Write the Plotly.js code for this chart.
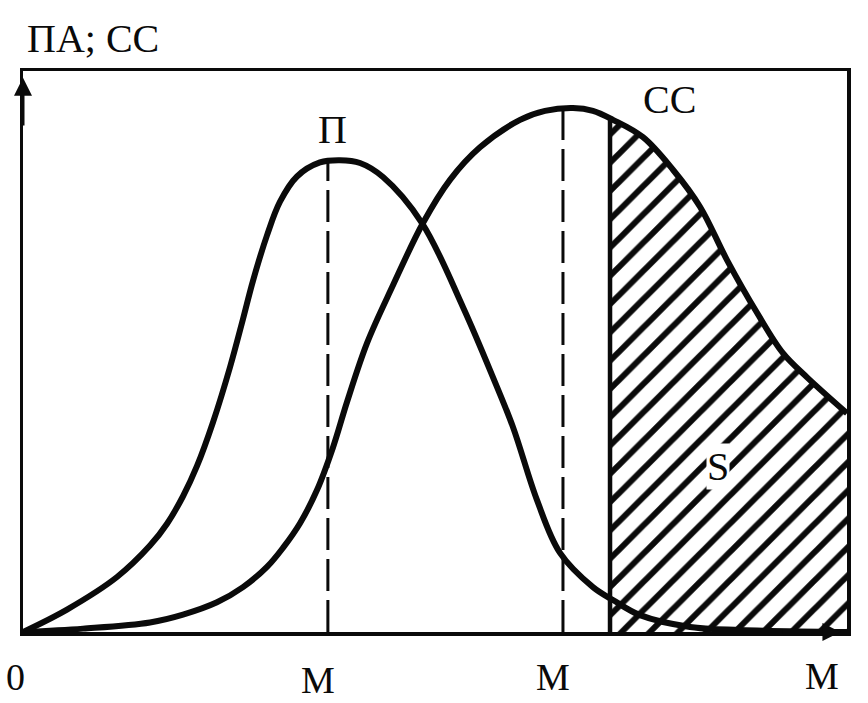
<!DOCTYPE html>
<html>
<head>
<meta charset="utf-8">
<script src="https://cdn.plot.ly/plotly-3.0.1.min.js"></script>
<style>html,body{margin:0;padding:0;background:#fff}#chart{width:868px;height:703px}</style>
</head>
<body>
<div id="chart"></div>
<script>
// Curve П
const pX = [0, 5.34, 11.41, 15.41, 17.48, 19.42, 21.12, 23.06, 25.12, 26.70, 27.91, 29.61, 31.19, 33.25, 36.04, 38.47, 40.90, 43.69, 48.42, 53.40, 57.04, 59.47, 62.38, 65.17, 69.17, 71.60, 74.88, 80.95, 87.01, 100];
const pY = [0, 4.0, 9.8, 15.4, 19.3, 24.2, 29.6, 37.4, 47.2, 55.8, 62.6, 70.7, 76.7, 81.2, 83.7, 84.1, 83.6, 81.1, 72.9, 57.9, 45.4, 36.5, 23.5, 14.1, 8.0, 5.7, 3.0, 0.9, 0.35, 0];
// Curve СС
const cX = [0, 7.28, 15.41, 19.42, 23.54, 26.70, 29.61, 31.55, 33.62, 35.68, 37.62, 39.32, 41.75, 44.90, 48.54, 51.82, 55.46, 60.32, 63.35, 66.75, 69.17, 71.60, 75.24, 78.88, 82.16, 85.44, 89.08, 92.23, 95.15, 100];
const cY = [0, 0.6, 1.7, 3.1, 5.3, 8.0, 11.6, 15.0, 19.4, 25.3, 32.9, 41.0, 51.5, 61.8, 72.9, 80.6, 86.4, 91.3, 92.9, 93.4, 92.9, 91.3, 88.2, 82.4, 75.8, 66.3, 56.9, 49.7, 45.4, 39.0];
// Shaded region S (part of СС beyond the cut-off)
const sX = [71.24, 71.60, 75.24, 78.88, 82.16, 85.44, 89.08, 92.23, 95.15, 100];
const sY = [91.5, 91.3, 88.2, 82.4, 75.8, 66.3, 56.9, 49.7, 45.4, 39.0];
// Reference verticals
const mPeakP = {x: 37.0, top: 84.0};
const mPeakC = {x: 65.53, top: 93.2};
const cutX = {x: 71.24, top: 91.5};
// Labels
const yLabel = 'ПА; СС';
const curveLabels = [{text: 'П', x: 37.6, y: 89.5}, {text: 'СС', x: 78.5, y: 95.0}, {text: 'S', x: 84.4, y: 29.5, halo: true}];
const xTickPos = [-0.0085, 0.358, 0.643, 0.970];
const xTickText = ['0', 'M', 'M', 'M'];
const xTickShift = [-22, -25, -22, -21];

const black = '#0a0a0a';
const font = {family: 'Liberation Serif, Times New Roman, serif', size: 40, color: black};
const tickFont = {family: 'Liberation Serif, Times New Roman, serif', size: 38, color: black};

const traces = [
  {x: sX, y: sY, mode: 'lines', fill: 'tozeroy', line: {width: 0, color: black, shape: 'spline'},
   fillcolor: 'rgba(255,255,255,0)',
   fillpattern: {shape: '/', size: 20, solidity: 0.3, fgcolor: black, bgcolor: 'rgba(255,255,255,0)'}, hoverinfo: 'skip'},
  {x: pX, y: pY, mode: 'lines', line: {shape: 'spline', width: 6, color: black}},
  {x: cX, y: cY, mode: 'lines', line: {shape: 'spline', width: 6, color: black}},
  {x: [mPeakP.x, mPeakP.x], y: [0, mPeakP.top], mode: 'lines', line: {width: 3, color: black, dash: '32px,9px'}},
  {x: [mPeakC.x, mPeakC.x], y: [0, mPeakC.top], mode: 'lines', line: {width: 3, color: black, dash: '32px,9px'}},
  {x: [cutX.x, cutX.x], y: [0, cutX.top], mode: 'lines', line: {width: 4.5, color: black}}
];

const annotations = curveLabels.map(l => Object.assign({text: l.text, x: l.x, y: l.y, xref: 'x', yref: 'y', showarrow: false, font: font},
  l.halo ? {bgcolor: '#ffffff', borderpad: 0} : {}));
annotations.push({text: yLabel, xref: 'paper', yref: 'paper', x: 0.002, y: 1.0, yshift: 8, xanchor: 'left', yanchor: 'bottom', showarrow: false, font: font});
xTickPos.forEach((v, i) => annotations.push({text: xTickText[i], x: v, xref: 'paper', yref: 'paper', y: 0, xanchor: 'center', yanchor: 'top', yshift: xTickShift[i], showarrow: false, font: tickFont}));
// axis arrows
annotations.push({x: 0, y: 98.8, ax: 0, ay: 90, xref: 'x', yref: 'y', axref: 'x', ayref: 'y', text: '', showarrow: true, arrowhead: 2, arrowsize: 1.2, arrowwidth: 3, arrowcolor: black});
annotations.push({x: 99.2, y: 0, ax: 92, ay: 0, xref: 'x', yref: 'y', axref: 'x', ayref: 'y', text: '', showarrow: true, arrowhead: 2, arrowsize: 1.2, arrowwidth: 3, arrowcolor: black});

const layout = {
  width: 868, height: 703,
  margin: {l: 23, r: 21, t: 71, b: 71},
  paper_bgcolor: '#fff', plot_bgcolor: '#fff',
  showlegend: false,
  xaxis: {range: [0, 100], showgrid: false, zeroline: false, showticklabels: false, ticks: '',
          showline: true, mirror: true, linewidth: 3.5, linecolor: black},
  yaxis: {range: [0, 100], showgrid: false, zeroline: false, showticklabels: false, ticks: '',
          showline: true, mirror: true, linewidth: 3.5, linecolor: black},
  annotations: annotations
};

Plotly.newPlot('chart', traces, layout, {staticPlot: true});
</script>
</body>
</html>
